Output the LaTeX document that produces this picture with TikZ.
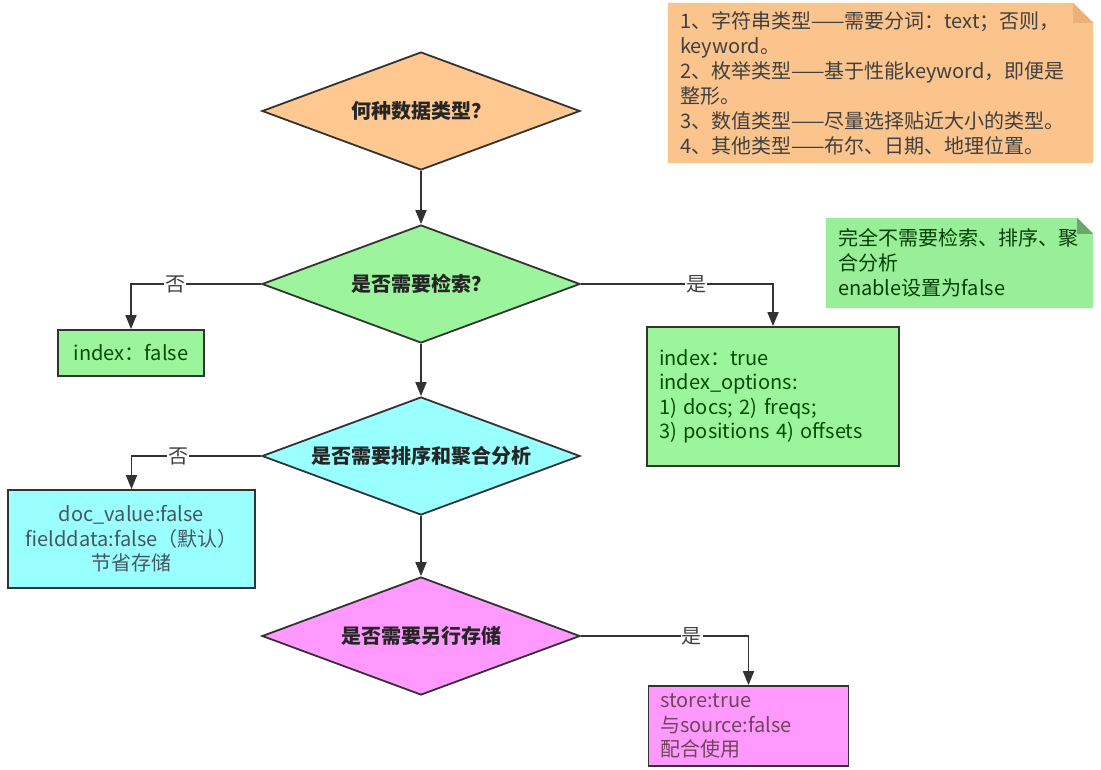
\documentclass[tikz,border=0pt]{standalone}
\usepackage{fontspec}
\setmainfont{Noto Sans CJK SC}
\usetikzlibrary{shapes.geometric, arrows.meta, backgrounds}

\definecolor{orangebg}{HTML}{FFC891}
\definecolor{greenbg}{HTML}{9CF59C}
\definecolor{cyanbg}{HTML}{99FFFF}
\definecolor{pinkbg}{HTML}{FF99FF}
\definecolor{notegreen}{HTML}{99EE99}
\definecolor{lineclr}{HTML}{333333}

\tikzset{
    decision/.style={diamond, draw=lineclr, line width=1.8pt, aspect=2.7, inner sep=0pt,
        minimum width=318pt, minimum height=118pt, font=\fontsize{20}{24}\selectfont\bfseries, text=black!85},
    outbox/.style={rectangle, draw=lineclr, line width=1.8pt, inner xsep=12pt, inner ysep=4pt,
        font=\fontsize{20}{24.5}\selectfont},
    note/.style={rectangle, inner xsep=12pt, inner ysep=4pt, align=left,
        font=\fontsize{20}{25}\selectfont},
    flow/.style={draw=lineclr, line width=1.8pt, -{Triangle[length=14pt,width=11pt]}},
    answer/.style={fill=white, inner sep=1pt, font=\fontsize{20}{20}\selectfont, text=black!75}
}

\begin{document}
\begin{tikzpicture}[x=1pt, y=-1pt]
    \useasboundingbox (0,0) rectangle (1101,769);

    % Decisions
    \node[decision, fill=orangebg] (kind) at (421,111) {何种数据类型？};
    \node[decision, fill=greenbg] (search) at (421,284) {是否需要检索？};
    \node[decision, fill=cyanbg] (sortagg) at (421,456) {是否需要排序和聚合分析};
    \node[decision, fill=pinkbg] (store) at (421,636) {是否需要另行存储};

    % Results
    \node[outbox, fill=greenbg, text=green!30!black, minimum width=146pt, minimum height=46pt]
        (nofalse) at (131,353) {index：false};
    \node[outbox, fill=greenbg, text=green!30!black, align=left, text width=228pt, minimum height=139pt]
        (notrue) at (773,396.5) {index：true\\index\_options:\\1) docs; 2) freqs;\\3) positions 4) offsets};
    \node[outbox, fill=cyanbg, text=cyan!30!black, align=center, minimum width=247pt, minimum height=98pt]
        (docvalue) at (131.5,539) {doc\_value:false\\fielddata:false（默认）\\节省存储};
    \node[outbox, fill=pinkbg, text=magenta!35!black, align=left, text width=176pt, minimum height=80pt]
        (storetrue) at (748.5,726) {store:true\\与source:false\\配合使用};

    % Notes
    \node[note, text=black!75, text width=401pt, minimum height=160pt] (typenote) at (880.5,83)
        {1、字符串类型——需要分词：text；否则，\\keyword。\\2、枚举类型——基于性能keyword，即便是\\整形。\\3、数值类型——尽量选择贴近大小的类型。\\4、其他类型——布尔、日期、地理位置。};
    \node[note, text=green!25!black, text width=243pt, minimum height=90pt] (enablenote) at (959.5,263)
        {完全不需要检索、排序、聚\\合分析\\enable设置为false};

    \begin{scope}[on background layer]
        \fill[orangebg!95!brown] (typenote.north west) -- ([xshift=-20pt]typenote.north east)
            -- ([yshift=-20pt]typenote.north east) -- (typenote.south east) -- (typenote.south west) -- cycle;
        \fill[orangebg!70!brown] ([xshift=-20pt]typenote.north east) -- ([yshift=-20pt]typenote.north east)
            -- ([xshift=-20pt,yshift=-20pt]typenote.north east) -- cycle;
        \fill[notegreen] (enablenote.north west) -- ([xshift=-16pt]enablenote.north east)
            -- ([yshift=-16pt]enablenote.north east) -- (enablenote.south east) -- (enablenote.south west) -- cycle;
        \fill[notegreen!70!black] ([xshift=-16pt]enablenote.north east) -- ([yshift=-16pt]enablenote.north east)
            -- ([xshift=-16pt,yshift=-16pt]enablenote.north east) -- cycle;
    \end{scope}

    % Connectors
    \draw[flow] (kind) -- (search);
    \draw[flow] (search.west) -| node[answer, pos=0.33] {否} (nofalse.north);
    \draw[flow] (search.east) -| node[answer, pos=0.3] {是} (notrue.north);
    \draw[flow] (search) -- (sortagg);
    \draw[flow] (sortagg.west) -| node[answer, pos=0.32] {否} (docvalue.north);
    \draw[flow] (sortagg) -- (store);
    \draw[flow] (store.east) -| node[answer, pos=0.33] {是} (storetrue.north);

\end{tikzpicture}
\end{document}
